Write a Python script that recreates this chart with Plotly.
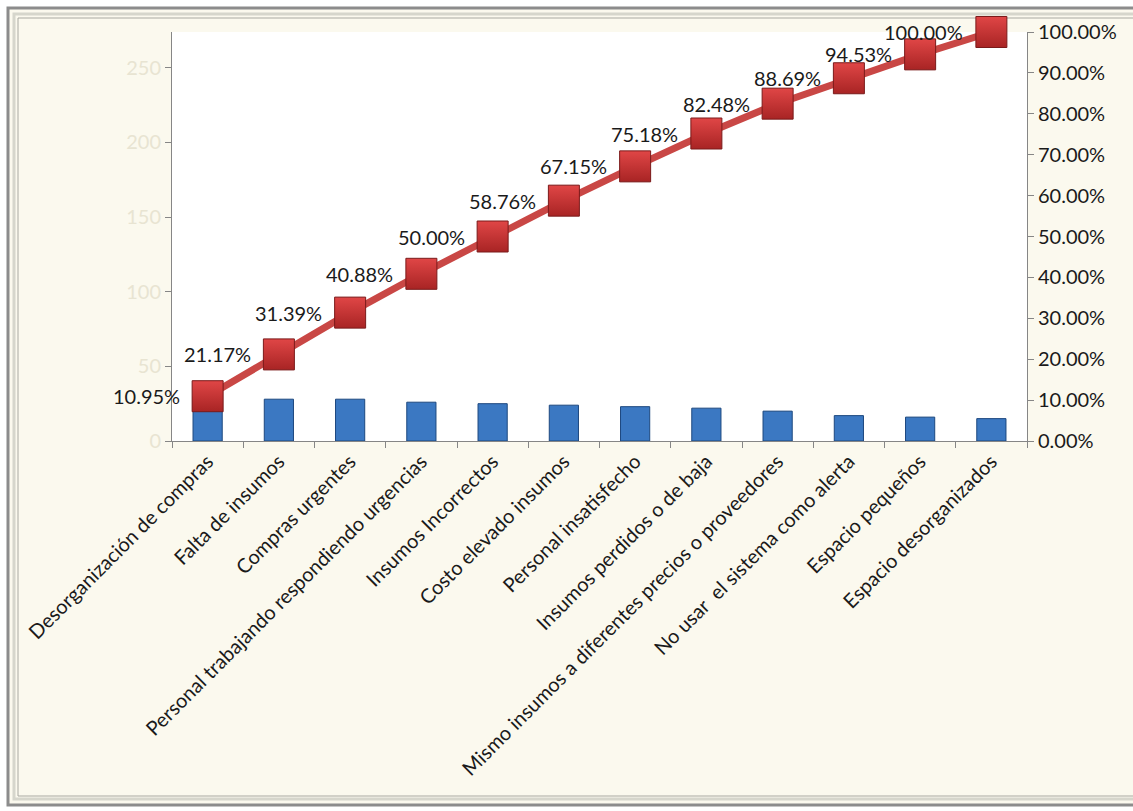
import plotly.graph_objects as go

categories = [
    "Desorganización de compras",
    "Falta de insumos",
    "Compras urgentes",
    "Personal trabajando respondiendo urgencias",
    "Insumos Incorrectos",
    "Costo elevado insumos",
    "Personal insatisfecho",
    "Insumos perdidos o de baja",
    "Mismo insumos a diferentes precios o proveedores",
    "No usar  el sistema como alerta",
    "Espacio pequeños",
    "Espacio desorganizados",
]
counts = [30, 28, 28, 26, 25, 24, 23, 22, 20, 17, 16, 15]
cum_pct = [0.1095, 0.2117, 0.3139, 0.4088, 0.5000, 0.5876, 0.6715, 0.7518,
           0.8248, 0.8869, 0.9453, 1.0000]
left_ticks = [0, 50, 100, 150, 200, 250]
right_ticks = [i / 10 for i in range(11)]

total = sum(counts)
FONT = "Lato"

# layout geometry (px)
W, H = 1133, 811
L, R, T, B = 172, 1027, 32, 441
pw, ph = R - L, B - T


def px_x(x):
    return (x - L) / pw


def px_y(y):
    return (B - y) / ph


fig = go.Figure()
fig.add_trace(go.Bar(
    x=categories, y=counts, width=0.41,
    marker=dict(color="#3b78c2", line=dict(color="#1d487f", width=1)),
    yaxis="y", showlegend=False, hoverinfo="x+y",
))
fig.add_trace(go.Scatter(
    x=categories, y=cum_pct, yaxis="y2", mode="lines+markers",
    line=dict(color="#c94745", width=7),
    marker=dict(symbol="square", size=31, color="#e04646",
                gradient=dict(type="vertical", color="#a82424"),
                line=dict(color="#7a1a1a", width=1)),
    cliponaxis=False, showlegend=False,
))

annotations = [
    dict(x=c, y=v, xref="x", yref="y2", text=f"{v*100:.2f}%",
         xanchor="right", yanchor="middle", xshift=-26, yshift=0,
         showarrow=False, font=dict(family=FONT, size=20, color="#1a1a1a"))
    for c, v in zip(categories, cum_pct)
]

shapes = [
    dict(type="rect", xref="paper", yref="paper",
         x0=px_x(8), x1=px_x(1135), y0=px_y(805), y1=px_y(8),
         fillcolor="#fbf9ee", line=dict(color="#8c8c8c", width=3), layer="below"),
    dict(type="rect", xref="paper", yref="paper",
         x0=px_x(14), x1=px_x(1140), y0=px_y(799), y1=px_y(14),
         fillcolor="rgba(0,0,0,0)", line=dict(color="#d6d6cc", width=3), layer="below"),
    dict(type="rect", xref="paper", yref="paper",
         x0=px_x(18), x1=px_x(1140), y0=px_y(796), y1=px_y(18),
         fillcolor="rgba(0,0,0,0)", line=dict(color="#a9a9a2", width=1), layer="below"),
    dict(type="rect", xref="paper", yref="paper",
         x0=0, x1=1, y0=0, y1=1,
         fillcolor="white", line=dict(width=0), layer="below"),
]

fig.update_layout(
    width=W, height=H,
    margin=dict(l=L, r=W - R, t=T, b=H - B, pad=0),
    paper_bgcolor="white", plot_bgcolor="white",
    font=dict(family=FONT, size=16, color="#1a1a1a"),
    bargap=0.59,
    shapes=shapes,
    annotations=annotations,
    xaxis=dict(
        type="category", range=[-0.5, len(categories) - 0.5],
        tickangle=-45, showline=True, linecolor="#868686",
        linewidth=1, ticks="outside", tickson="boundaries", ticklen=6,
        tickcolor="#868686", showgrid=False, zeroline=False,
        tickfont=dict(family=FONT, size=20, color="#1a1a1a"),
    ),
    yaxis=dict(
        range=[0, total], tickvals=left_ticks, showline=True, linecolor="#868686",
        ticks="outside", ticklen=6, tickcolor="#868686", showgrid=False,
        zeroline=False, tickfont=dict(family=FONT, size=20, color="#e8e4d2"),
    ),
    yaxis2=dict(
        range=[0, 1], tickvals=right_ticks, tickformat=".2%", overlaying="y",
        side="right", showline=True, linecolor="#868686", ticks="outside",
        ticklen=6, tickcolor="#868686", showgrid=False, zeroline=False,
        tickfont=dict(family=FONT, size=20, color="#1a1a1a"),
    ),
)

fig.write_html("out.html")
